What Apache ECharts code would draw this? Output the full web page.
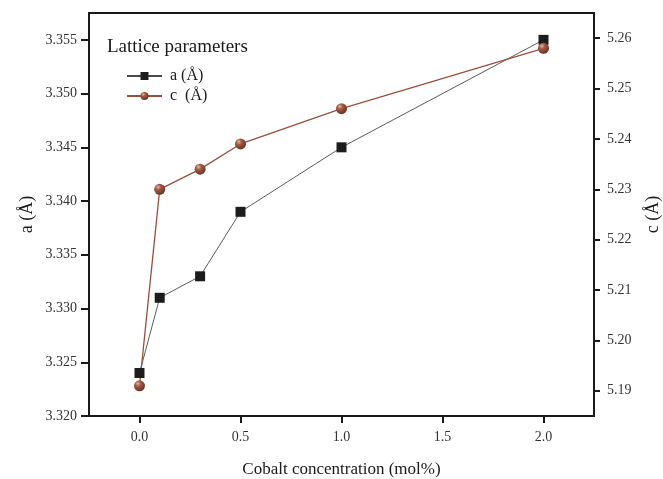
<!DOCTYPE html>
<html>
<head>
<meta charset="utf-8">
<script src="https://cdn.jsdelivr.net/npm/echarts@6/dist/echarts.min.js"></script>
<style>html,body{margin:0;padding:0;background:#fff}#c{width:663px;height:479px}</style>
</head>
<body>
<div id="c"></div>
<script>
const xValues = [0, 0.1, 0.3, 0.5, 1.0, 2.0];
const aValues = [3.324, 3.331, 3.333, 3.339, 3.345, 3.355];
const cValues = [5.191, 5.230, 5.234, 5.239, 5.246, 5.258];
const xTicks = [0, 0.5, 1.0, 1.5, 2.0];
const aTicks = [3.320, 3.325, 3.330, 3.335, 3.340, 3.345, 3.350, 3.355];
const cTicks = [5.19, 5.20, 5.21, 5.22, 5.23, 5.24, 5.25, 5.26];

const FONT = '"Liberation Serif", "DejaVu Serif", serif';
const chart = echarts.init(document.getElementById('c'));
const axisLine = {show: true, onZero: false, lineStyle: {color: '#1a1a1a', width: 2}};
const ballColor = new echarts.graphic.RadialGradient(0.35, 0.3, 0.7, [
  {offset: 0, color: '#e6b9a8'},
  {offset: 0.35, color: '#a35c48'},
  {offset: 1, color: '#6b3426'}
]);
chart.setOption({
  animation: false,
  title: {
    text: 'Lattice parameters', left: 107, top: 38, padding: 0,
    textStyle: {fontFamily: FONT, fontSize: 19, fontWeight: 'normal', color: '#1a1a1a'}
  },
  legend: {
    left: 126, top: 68, padding: 0, orient: 'vertical', itemWidth: 35, itemHeight: 10, itemGap: 4,
    textStyle: {fontFamily: FONT, fontSize: 16, color: '#1a1a1a', padding: [0, 0, 0, 3]},
    data: ['a (Å)', 'c  (Å)']
  },
  grid: {left: 89, right: 69, top: 13, bottom: 63, outerBoundsMode: 'none', containLabel: false,
    show: true, borderColor: '#1a1a1a', borderWidth: 2, backgroundColor: 'transparent'},
  xAxis: {
    type: 'value', min: -0.25, max: 2.25,
    name: 'Cobalt concentration (mol%)', nameLocation: 'middle', nameGap: 45,
    nameTextStyle: {fontFamily: FONT, fontSize: 17, color: '#1a1a1a'},
    axisLine: axisLine,
    axisTick: {show: true, inside: false, length: 7, lineStyle: {color: '#1a1a1a', width: 2}, customValues: xTicks},
    axisLabel: {customValues: xTicks, margin: 14, fontFamily: FONT, fontSize: 14, color: '#333',
      formatter: v => Number(v).toFixed(1)},
    splitLine: {show: false}
  },
  yAxis: [{
    type: 'value', min: 3.320, max: 3.3575, position: 'left',
    name: 'a (Å)', nameLocation: 'middle', nameGap: 53, nameRotate: 90, nameMoveOverlap: false,
    nameTextStyle: {fontFamily: FONT, fontSize: 18, color: '#1a1a1a'},
    axisLine: axisLine,
    axisTick: {show: true, length: 8, lineStyle: {color: '#1a1a1a', width: 2}, customValues: aTicks},
    axisLabel: {customValues: aTicks, margin: 12, fontFamily: FONT, fontSize: 14, color: '#333',
      formatter: v => Number(v).toFixed(3)},
    splitLine: {show: false}
  }, {
    type: 'value', min: 5.185, max: 5.265, position: 'right',
    name: 'c (Å)', nameLocation: 'middle', nameGap: 50, nameRotate: 90,
    nameTextStyle: {fontFamily: FONT, fontSize: 18, color: '#1a1a1a'},
    axisLine: axisLine,
    axisTick: {show: true, length: 6, lineStyle: {color: '#1a1a1a', width: 2}, customValues: cTicks},
    axisLabel: {customValues: cTicks, margin: 13, fontFamily: FONT, fontSize: 14, color: '#333',
      formatter: v => Number(v).toFixed(2)},
    splitLine: {show: false}
  }],
  series: [{
    name: 'a (Å)', type: 'line', yAxisIndex: 0,
    data: xValues.map((x, i) => [x, aValues[i]]),
    symbol: 'rect', symbolSize: 10,
    itemStyle: {color: '#1c1c1c'},
    lineStyle: {color: '#4a4a4a', width: 0.9}
  }, {
    name: 'c  (Å)', type: 'line', yAxisIndex: 1,
    data: xValues.map((x, i) => [x, cValues[i]]),
    symbol: 'circle', symbolSize: 11,
    itemStyle: {color: ballColor},
    lineStyle: {color: '#9a4f3c', width: 1.3}
  }]
});
</script>
</body>
</html>
